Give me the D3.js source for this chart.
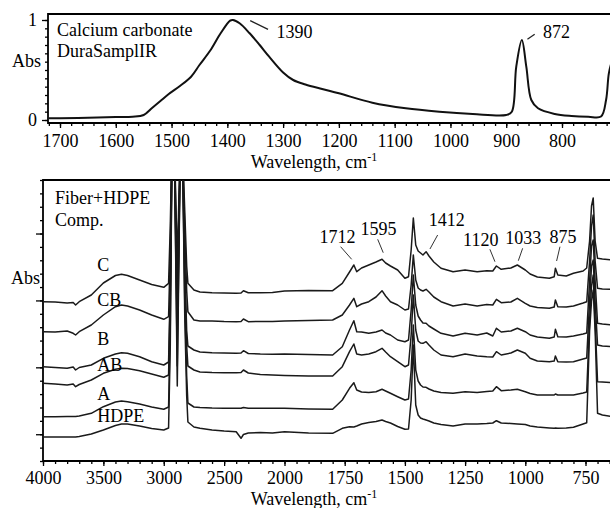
<!DOCTYPE html>
<html>
<head>
<meta charset="utf-8">
<script src="https://cdn.jsdelivr.net/npm/d3@7"></script>
<style>
  html, body { margin: 0; padding: 0; background: #fff; }
  svg { display: block; font-family: "Liberation Serif", "Times New Roman", serif; }
  .axis text { font-size: 18px; fill: #000; font-family: "Liberation Serif", "Times New Roman", serif; }
  .axis line { stroke: #000; stroke-width: 1.3; }
  .lbl { font-size: 18px; fill: #000; }
</style>
</head>
<body>
<div id="chart"></div>
<script>
// ---------- top panel: calcium carbonate ----------
const topWn = [1720, 1700, 1650, 1600, 1570, 1550, 1535, 1520, 1505, 1485, 1465, 1450, 1430, 1412, 1395, 1390, 1378, 1360, 1342, 1325, 1300, 1282, 1260, 1230, 1200, 1140, 1080, 1020, 960, 900, 890, 882, 872, 864, 855, 843, 813, 783, 753, 730, 721, 716, 710];
const topAbs = [0.018, 0.018, 0.022, 0.03, 0.033, 0.05, 0.12, 0.19, 0.26, 0.34, 0.433, 0.55, 0.70, 0.867, 0.993, 1.0, 0.967, 0.867, 0.75, 0.633, 0.475, 0.40, 0.355, 0.31, 0.267, 0.173, 0.117, 0.083, 0.06, 0.05, 0.083, 0.533, 0.80, 0.533, 0.20, 0.117, 0.06, 0.04, 0.033, 0.035, 0.2, 0.467, 0.6];
const topTickLabels = [1700, 1600, 1500, 1400, 1300, 1200, 1100, 1000, 900, 800];
const topPeakText = ['1390', '872'];
const topPeakTextW = [1312, 834];
const topPeakTextV = [0.82, 0.82];
const topLeadW1 = [1359, 862], topLeadV1 = [0.993, 0.807];
const topLeadW2 = [1327, 849], topLeadV2 = [0.907, 0.857];

// ---------- bottom panel: Fiber+HDPE composites ----------
const wn = [4000, 3900, 3800, 3750, 3730, 3700, 3600, 3500, 3400, 3350,
  3300, 3200, 3100, 3000, 2960, 2946, 2930, 2914, 2888, 2862,
  2846, 2826, 2810, 2800, 2750, 2700, 2600, 2500, 2400, 2360,
  2340, 2300, 2200, 2100, 2000, 1900, 1800, 1760, 1730, 1712,
  1700, 1680, 1650, 1620, 1595, 1580, 1560, 1530, 1500, 1485,
  1474, 1465, 1455, 1445, 1435, 1425, 1412, 1400, 1380, 1350,
  1300, 1250, 1200, 1160, 1135, 1120, 1100, 1060, 1033, 1000,
  980, 950, 900, 880, 875, 865, 830, 800, 760, 745,
  733, 725, 718, 710, 700, 680, 640];
const absC = [1.593, 1.59, 1.58, 1.585, 1.56, 1.593, 1.66, 1.78, 1.855, 1.867,
  1.855, 1.81, 1.765, 1.737, 1.777, 2.35, 3.3, 3.3, 2.0, 3.2,
  3.2, 2.5, 1.95, 1.777, 1.71, 1.69, 1.683, 1.68, 1.677, 1.68,
  1.703, 1.683, 1.683, 1.685, 1.70, 1.705, 1.703, 1.777, 1.89, 1.96,
  1.893, 1.93, 1.96, 1.99, 2.017, 1.98, 1.95, 1.91, 1.827, 1.843,
  2.11, 2.43, 2.16, 2.1, 2.08, 2.06, 2.093, 2.05, 1.99, 1.927,
  1.893, 1.91, 1.893, 1.903, 1.90, 1.95, 1.917, 1.93, 1.96, 1.91,
  1.87, 1.84, 1.827, 1.843, 1.927, 1.86, 1.85, 1.877, 1.90, 1.93,
  2.2, 2.55, 2.63, 2.2, 2.027, 2.02, 2.01];
const absCB = [1.293, 1.29, 1.30, 1.277, 1.26, 1.293, 1.36, 1.46, 1.543, 1.56,
  1.55, 1.51, 1.46, 1.417, 1.443, 2.1, 3.3, 3.3, 1.75, 3.2,
  3.2, 2.3, 1.7, 1.493, 1.41, 1.40, 1.40, 1.395, 1.393, 1.395,
  1.42, 1.393, 1.395, 1.395, 1.40, 1.405, 1.41, 1.46, 1.56, 1.627,
  1.543, 1.57, 1.593, 1.64, 1.703, 1.65, 1.593, 1.56, 1.51, 1.52,
  1.76, 2.06, 1.81, 1.73, 1.71, 1.70, 1.717, 1.69, 1.64, 1.593,
  1.55, 1.57, 1.55, 1.565, 1.56, 1.617, 1.583, 1.59, 1.627, 1.577,
  1.55, 1.535, 1.527, 1.54, 1.61, 1.543, 1.54, 1.55, 1.58, 1.593,
  2.0, 2.35, 2.46, 2.0, 1.727, 1.72, 1.717];
const absB = [0.943, 0.935, 0.927, 0.94, 0.91, 0.935, 0.96, 1.027, 1.07, 1.083,
  1.077, 1.043, 0.993, 0.96, 0.99, 1.75, 3.3, 3.3, 1.4, 3.2,
  3.2, 2.0, 1.3, 1.15, 1.11, 1.09, 1.083, 1.08, 1.077, 1.08,
  1.103, 1.075, 1.07, 1.068, 1.07, 1.065, 1.06, 1.143, 1.31, 1.403,
  1.293, 1.29, 1.277, 1.29, 1.31, 1.28, 1.26, 1.21, 1.193, 1.21,
  1.51, 1.86, 1.56, 1.45, 1.41, 1.38, 1.377, 1.35, 1.32, 1.277,
  1.25, 1.277, 1.26, 1.28, 1.25, 1.327, 1.29, 1.30, 1.327, 1.293,
  1.26, 1.24, 1.227, 1.24, 1.317, 1.243, 1.24, 1.25, 1.27, 1.28,
  1.8, 2.15, 2.21, 1.8, 1.377, 1.37, 1.36];
const absAB = [0.777, 0.77, 0.76, 0.77, 0.743, 0.765, 0.81, 0.877, 0.917, 0.927,
  0.925, 0.903, 0.87, 0.837, 0.86, 1.65, 3.3, 3.3, 1.25, 3.2,
  3.2, 1.85, 1.15, 0.95, 0.91, 0.89, 0.885, 0.883, 0.883, 0.885,
  0.91, 0.88, 0.865, 0.86, 0.855, 0.85, 0.85, 0.943, 1.093, 1.17,
  1.07, 1.06, 1.07, 1.093, 1.127, 1.09, 1.043, 0.993, 0.943, 0.96,
  1.26, 1.66, 1.31, 1.2, 1.18, 1.177, 1.193, 1.16, 1.11, 1.06,
  1.043, 1.07, 1.05, 1.043, 1.04, 1.093, 1.06, 1.08, 1.11, 1.077,
  1.027, 1.00, 0.993, 1.00, 1.05, 0.993, 0.99, 0.993, 1.02, 1.03,
  1.6, 1.95, 2.01, 1.6, 1.16, 1.15, 1.143];
const absA = [0.443, 0.443, 0.445, 0.445, 0.445, 0.45, 0.477, 0.543, 0.59, 0.60,
  0.593, 0.57, 0.54, 0.517, 0.54, 1.35, 3.3, 3.3, 0.95, 3.2,
  3.2, 1.6, 0.85, 0.58, 0.54, 0.535, 0.53, 0.528, 0.527, 0.527,
  0.535, 0.527, 0.527, 0.527, 0.527, 0.52, 0.517, 0.61, 0.727, 0.783,
  0.71, 0.69, 0.685, 0.693, 0.717, 0.70, 0.677, 0.643, 0.61, 0.62,
  0.91, 1.36, 0.91, 0.8, 0.76, 0.74, 0.737, 0.72, 0.70, 0.685,
  0.677, 0.693, 0.685, 0.695, 0.70, 0.743, 0.703, 0.71, 0.717, 0.693,
  0.675, 0.66, 0.66, 0.66, 0.67, 0.66, 0.66, 0.66, 0.68, 0.69,
  1.4, 1.75, 1.86, 1.4, 0.793, 0.79, 0.783];
const absHDPE = [0.24, 0.24, 0.24, 0.24, 0.24, 0.245, 0.27, 0.31, 0.355, 0.37,
  0.37, 0.35, 0.325, 0.31, 0.33, 1.15, 3.3, 3.3, 0.75, 3.2,
  3.2, 1.45, 0.65, 0.39, 0.34, 0.327, 0.31, 0.30, 0.293, 0.227,
  0.265, 0.28, 0.285, 0.28, 0.293, 0.28, 0.277, 0.327, 0.343, 0.34,
  0.35, 0.37, 0.385, 0.395, 0.41, 0.395, 0.38, 0.345, 0.317, 0.32,
  0.61, 1.16, 0.56, 0.46, 0.43, 0.42, 0.41, 0.40, 0.38, 0.365,
  0.35, 0.37, 0.37, 0.375, 0.38, 0.403, 0.38, 0.375, 0.37, 0.365,
  0.35, 0.34, 0.33, 0.327, 0.33, 0.327, 0.33, 0.337, 0.37, 0.383,
  1.3, 1.6, 1.71, 1.3, 0.477, 0.46, 0.443];
const seriesNames = ['C', 'CB', 'B', 'AB', 'A', 'HDPE'];
const seriesLabelV = [1.90, 1.55, 1.165, 0.90, 0.61, 0.39];
const seriesLabelW = 3550;
const botTickLabels = [4000, 3500, 3000, 2500, 2000, 1750, 1500, 1250, 1000, 750];
const peakText = ['1712', '1595', '1412', '1120', '1033', '875'];
const peakTextW = [1780, 1610, 1326, 1185, 1008, 843];
const peakTextV = [2.18, 2.257, 2.35, 2.15, 2.167, 2.183];
const leadW1 = [1767, 1613, 1364, 1147, 1011, 856], leadV1 = [2.143, 2.217, 2.26, 2.117, 2.127, 2.143];
const leadW2 = [1721, 1590, 1396, 1126, 1029, 870], leadV2 = [2.017, 2.083, 2.12, 1.993, 2.003, 2.0];

// ---------- layout ----------
const width = 610;
const height = 508;
const topLeft = 48, topTop = 14, topBottom = 123;
const botLeft = 43, botTop = 180, botBottom = 461;

const svg = d3.select('#chart').append('svg')
    .attr('width', width)
    .attr('height', height);

const defs = svg.append('defs');
defs.append('clipPath').attr('id', 'clipTop').append('rect')
    .attr('x', topLeft).attr('y', topTop)
    .attr('width', width - topLeft).attr('height', topBottom - topTop);
defs.append('clipPath').attr('id', 'clipBot').append('rect')
    .attr('x', botLeft).attr('y', botTop)
    .attr('width', width - botLeft).attr('height', botBottom - botTop);

// scales
const xTop = d3.scaleLinear().domain([1700, 800]).range([60, 562]);
const yTop = d3.scaleLinear().domain([0, 1]).range([120, 20]);
// FTIR axis: scale doubles below 2000 cm-1
const xBot = d3.scaleLinear().domain([4000, 2000, 750]).range([43, 284.5, 585.5]);
const yBot = d3.scaleLinear().domain([0, 2.81]).range([botBottom, botTop]);

const noDomain = (g) => g.select('.domain').remove();

// ***************** top panel *****************
svg.append('g').attr('class', 'axis')
    .attr('transform', `translate(0,${topBottom})`)
    .call(d3.axisBottom(xTop).tickValues(topTickLabels).tickSize(5).tickPadding(6).tickFormat(d3.format('d')))
    .call(noDomain);
svg.append('g').attr('class', 'axis')
    .attr('transform', `translate(0,${topBottom})`)
    .call(d3.axisBottom(xTop).tickValues(d3.range(1720, 700, -20)).tickSize(3).tickFormat(''))
    .call(noDomain);
svg.append('g').attr('class', 'axis')
    .attr('transform', `translate(${topLeft},0)`)
    .call(d3.axisLeft(yTop).tickValues([0, 1]).tickSize(6).tickPadding(5).tickFormat(d3.format('d')))
    .call(noDomain);
svg.append('g').attr('class', 'axis')
    .attr('transform', `translate(${topLeft},0)`)
    .call(d3.axisLeft(yTop).tickValues(d3.range(13).map((i) => i / 12)).tickSize(3).tickFormat(''))
    .call(noDomain);

// frame
const frame = svg.append('g').attr('stroke', '#000').attr('stroke-width', 1.8).attr('fill', 'none');
frame.append('path').attr('d', `M${width},${topTop}H${topLeft}V${topBottom}H${width}`);
frame.append('path').attr('d', `M${width},${botTop}H${botLeft}V${botBottom}H${width}`);

const topData = topWn.map((w, i) => ({ w, v: topAbs[i] }));
const topLine = d3.line()
    .curve(d3.curveCatmullRom.alpha(0.5))
    .x((d) => xTop(d.w))
    .y((d) => yTop(d.v));
svg.append('path')
    .attr('clip-path', 'url(#clipTop)')
    .attr('d', topLine(topData))
    .attr('fill', 'none')
    .attr('stroke', '#111')
    .attr('stroke-width', 2);

svg.append('text').attr('class', 'lbl').attr('x', topLeft + 9).attr('y', 36).text('Calcium carbonate');
svg.append('text').attr('class', 'lbl').attr('x', topLeft + 9).attr('y', 57).text('DuraSamplIR');
svg.append('text').attr('class', 'lbl').attr('x', topLeft - 7).attr('y', 67).attr('text-anchor', 'end').text('Abs');

topPeakText.forEach((t, i) => {
    svg.append('line')
        .attr('x1', xTop(topLeadW1[i])).attr('y1', yTop(topLeadV1[i]))
        .attr('x2', xTop(topLeadW2[i])).attr('y2', yTop(topLeadV2[i]))
        .attr('stroke', '#222').attr('stroke-width', 1.3);
    svg.append('text').attr('class', 'lbl')
        .attr('x', xTop(topPeakTextW[i])).attr('y', yTop(topPeakTextV[i]))
        .text(t);
});

const xTitle = (y) => {
    const t = svg.append('text').attr('class', 'lbl')
        .attr('x', 314).attr('y', y).attr('text-anchor', 'middle');
    t.append('tspan').text('Wavelength, cm');
    t.append('tspan').attr('dy', -7).attr('font-size', 12).text('-1');
};
xTitle(168);

// ***************** bottom panel *****************
const minorBot = d3.range(4000, 2000, -100).concat(d3.range(2000, 620, -50));
svg.append('g').attr('class', 'axis')
    .attr('transform', `translate(0,${botBottom})`)
    .call(d3.axisBottom(xBot).tickValues(botTickLabels).tickSize(5).tickPadding(5).tickFormat(d3.format('d')))
    .call(noDomain);
svg.append('g').attr('class', 'axis')
    .attr('transform', `translate(0,${botBottom})`)
    .call(d3.axisBottom(xBot).tickValues(minorBot).tickSize(3).tickFormat(''))
    .call(noDomain);

const yTicksBot = d3.range(22).map((k) => (k * 2.81) / 21);
svg.append('g').attr('class', 'axis')
    .attr('transform', `translate(${botLeft},0)`)
    .call(d3.axisLeft(yBot).tickValues(yTicksBot.filter((d, k) => (k - 2) % 5 === 0)).tickSize(7).tickFormat(''))
    .call(noDomain);
svg.append('g').attr('class', 'axis')
    .attr('transform', `translate(${botLeft},0)`)
    .call(d3.axisLeft(yBot).tickValues(yTicksBot).tickSize(3).tickFormat(''))
    .call(noDomain);

const botLine = d3.line()
    .x((d) => xBot(d.w))
    .y((d) => yBot(d.v));
const spectra = [absC, absCB, absB, absAB, absA, absHDPE];
svg.append('g')
    .attr('clip-path', 'url(#clipBot)')
    .selectAll('path')
    .data(spectra)
    .join('path')
    .attr('d', (s) => botLine(wn.map((w, i) => ({ w, v: s[i] }))))
    .attr('fill', 'none')
    .attr('stroke', '#1a1a1a')
    .attr('stroke-width', 1.5)
    .attr('stroke-linejoin', 'round');

svg.selectAll('.seriesLabel')
    .data(seriesNames)
    .join('text')
    .attr('class', 'lbl seriesLabel')
    .attr('x', xBot(seriesLabelW))
    .attr('y', (d, i) => yBot(seriesLabelV[i]))
    .text((d) => d);

peakText.forEach((t, i) => {
    svg.append('line')
        .attr('x1', xBot(leadW1[i])).attr('y1', yBot(leadV1[i]))
        .attr('x2', xBot(leadW2[i])).attr('y2', yBot(leadV2[i]))
        .attr('stroke', '#333').attr('stroke-width', 1);
    svg.append('text').attr('class', 'lbl')
        .attr('x', xBot(peakTextW[i])).attr('y', yBot(peakTextV[i]))
        .attr('text-anchor', 'middle')
        .text(t);
});

svg.append('text').attr('class', 'lbl').attr('x', botLeft + 12).attr('y', 204).text('Fiber+HDPE');
svg.append('text').attr('class', 'lbl').attr('x', botLeft + 12).attr('y', 226).text('Comp.');
svg.append('text').attr('class', 'lbl').attr('x', botLeft - 3).attr('y', 284).attr('text-anchor', 'end').text('Abs');

xTitle(505);
</script>
</body>
</html>
